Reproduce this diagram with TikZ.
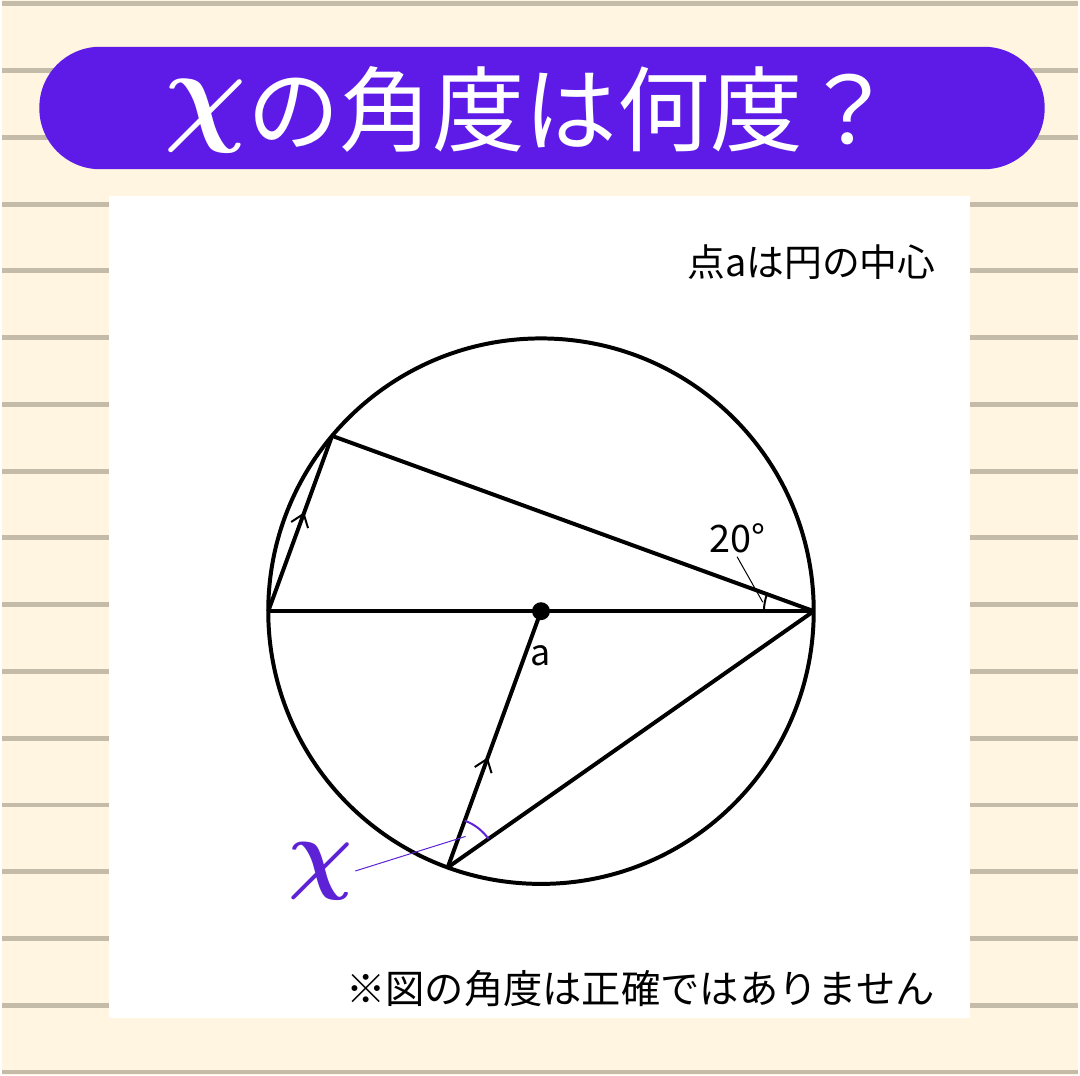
\documentclass[tikz,border=0pt]{standalone}
\usepackage{fontspec}
\usepackage{bm}
\newfontfamily\jpfont{Noto Sans CJK JP}
\usetikzlibrary{decorations.markings}
\definecolor{cream}{HTML}{FFF5E0}
\definecolor{ruled}{HTML}{C4BBA9}
\definecolor{banner}{HTML}{5E1BE8}
\definecolor{chicol}{HTML}{5D22D6}
\tikzset{
  fig/.style={line width=4pt},
  parmark/.style={postaction={decorate},decoration={markings,
    mark=at position #1 with {\draw[line width=2pt,line join=miter] (-11pt,9pt) -- (1pt,0) -- (-11pt,-9pt);}}},
}
\begin{document}
\begin{tikzpicture}[x=1pt,y=1pt]
\fill[cream] (0,0) rectangle (1080,1080);
\foreach \k in {0,...,16}
  \draw[ruled,line width=5pt] (0,{1076-67.06*\k}) -- (1080,{1076-67.06*\k});
\fill[white] (107,57) rectangle (972,883);
\fill[banner,rounded corners=61pt] (37,910) rectangle (1047,1033);
\node[text=white,font=\jpfont\fontsize{93}{98}\selectfont] (title) at (530,970) {\raisebox{14pt}{\normalsize\scalebox{11.5}{$\bm{\chi}$}}の角度は何度？};
\node[anchor=east,font=\jpfont\fontsize{38}{44}\selectfont] (centre) at (941,817) {点aは円の中心};
\node[anchor=east,font=\jpfont\fontsize{39.5}{46}\selectfont] (note) at (940,87) {※図の角度は正確ではありません};
\coordinate (O) at (541,466);
\path (O) ++(180:274) coordinate (L);
\path (O) ++(0:274) coordinate (R);
\path (O) ++(140:274) coordinate (A);
\path (O) ++(250:274) coordinate (B);
\draw[fig] (O) circle[radius=274];
\path[draw,fig,parmark=0.55] (L) -- (A);
\path[draw,fig] (A) -- (R);
\path[draw,fig] (L) -- (R);
\path[draw,fig,parmark=0.42] (B) -- (O);
\path[draw,fig] (B) -- (R);
\node[circle,fill=black,inner sep=0pt,minimum size=18pt] (dot) at (O) {};
\draw[line width=2pt] (R) ++(180:50) arc[start angle=180,end angle=160,radius=50];
\draw[chicol,line width=2pt] (B) ++(35:50) arc[start angle=35,end angle=70,radius=50];
\node[font=\jpfont\fontsize{38}{44}\selectfont] (t20) at (738,539) {20°};
\path (R) ++(170:52) coordinate (m20);
\draw[line width=1pt] (t20.south) -- (m20);
\node[font=\jpfont\fontsize{36}{40}\selectfont] (a) at (541,421) {a};
\node[text=chicol,inner sep=2pt] (chi) at (320,205) {\scalebox{9}{$\bm{\chi}$}};
\path (B) ++(60:36) coordinate (mx);
\draw[chicol,line width=1pt] (chi.east) -- (mx);
\end{tikzpicture}
\end{document}
